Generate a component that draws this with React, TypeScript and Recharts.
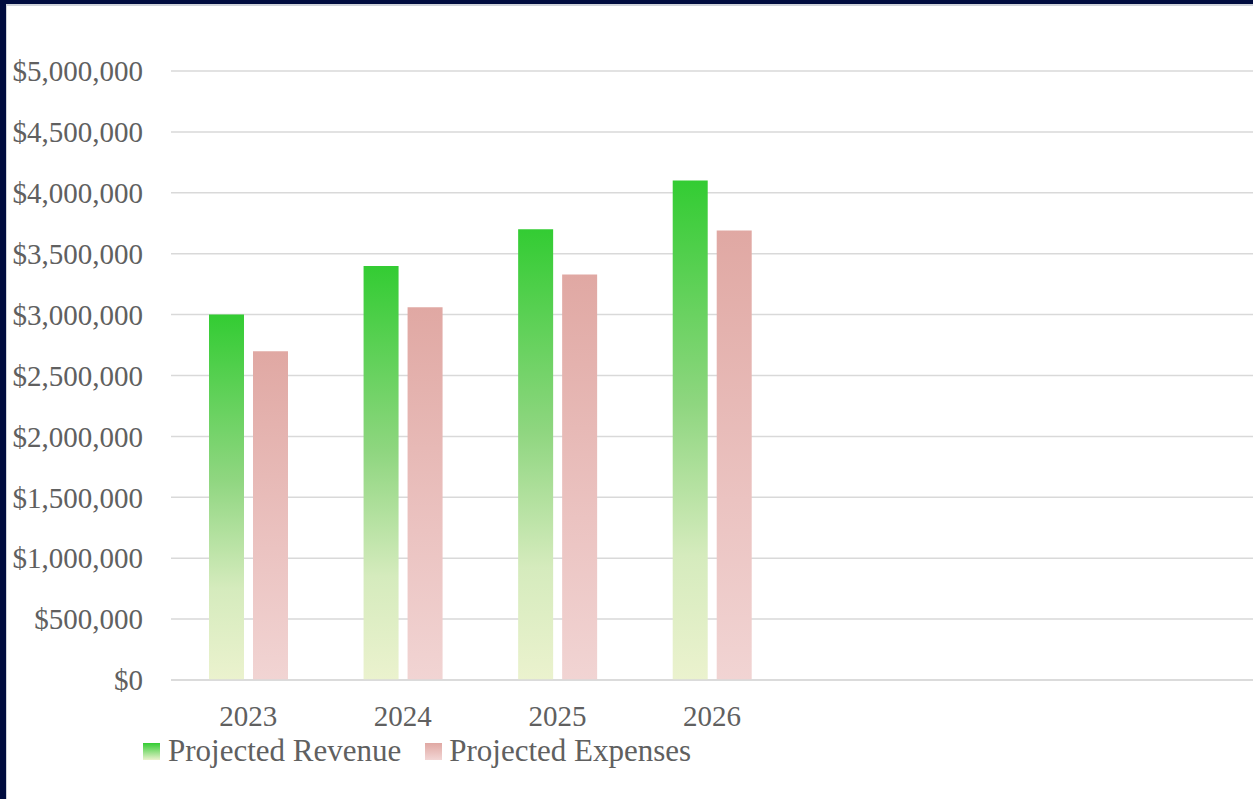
import React from "react";
import { BarChart, Bar, XAxis, YAxis, CartesianGrid } from "recharts";

const categories = ["2023", "2024", "2025", "2026", "", " ", "  "];
const revenue = [3000000, 3400000, 3700000, 4100000, null, null, null];
const expenses = [2700000, 3060000, 3330000, 3690000, null, null, null];
const yTicks = [0, 500000, 1000000, 1500000, 2000000, 2500000, 3000000, 3500000, 4000000, 4500000, 5000000];
const seriesNames = ["Projected Revenue", "Projected Expenses"];

const data = categories.map((c, i) => ({ year: c, revenue: revenue[i], expenses: expenses[i] }));

const FONT = '"Liberation Serif", "DejaVu Serif", serif';
const TEXT = "#606060";

const fmt = (v: number) => "$" + v.toLocaleString("en-US");

const LegendContent = () => (
  <div style={{ display: "flex", alignItems: "center", fontFamily: FONT, fontSize: 31, color: TEXT, whiteSpace: "nowrap", lineHeight: "34px" }}>
    <svg width={17} height={17} style={{ marginRight: 8 }}>
      <defs>
        <linearGradient id="lgRev" x1="0" y1="0" x2="0" y2="1">
          <stop offset="0%" stopColor="#33CC33" />
          <stop offset="100%" stopColor="#EBF2CE" />
        </linearGradient>
      </defs>
      <rect width={17} height={17} fill="url(#lgRev)" />
    </svg>
    <span style={{ marginRight: 24 }}>{seriesNames[0]}</span>
    <svg width={17} height={17} style={{ marginRight: 7 }}>
      <defs>
        <linearGradient id="lgExp" x1="0" y1="0" x2="0" y2="1">
          <stop offset="0%" stopColor="#E0A8A3" />
          <stop offset="100%" stopColor="#F2D6D5" />
        </linearGradient>
      </defs>
      <rect width={17} height={17} fill="url(#lgExp)" />
    </svg>
    <span>{seriesNames[1]}</span>
  </div>
);

export default function App() {
  return (
    <div style={{ position: "fixed", left: 0, top: 0, width: 1253, height: 799, background: "#000C3F", overflow: "hidden" }}>
      <div
        style={{
          position: "absolute",
          left: 6,
          top: 4,
          width: 1253,
          height: 799,
          background: "#ffffff",
          borderLeft: "1px solid #cfd3da",
          borderTop: "2px solid #cfd3da",
        }}
      />
      <div style={{ position: "absolute", left: 0, top: 0 }}>
        <BarChart
          width={1253}
          height={799}
          data={data}
          margin={{ top: 71, right: 0, bottom: 0, left: 0 }}
          barSize={35}
          barGap={9}
        >
          <defs>
            <linearGradient id="gRev" x1="0" y1="0" x2="0" y2="1">
              <stop offset="0%" stopColor="#33CC33" />
              <stop offset="45%" stopColor="#8FD680" />
              <stop offset="75%" stopColor="#D5EBBD" />
              <stop offset="100%" stopColor="#EBF2CE" />
            </linearGradient>
            <linearGradient id="gExp" x1="0" y1="0" x2="0" y2="1">
              <stop offset="0%" stopColor="#E0A8A3" />
              <stop offset="60%" stopColor="#EBC3C1" />
              <stop offset="100%" stopColor="#F1D4D3" />
            </linearGradient>
          </defs>
          <CartesianGrid vertical={false} stroke="#d9d9d9" strokeWidth={1.5} />
          <XAxis
            dataKey="year"
            height={119}
            axisLine={{ stroke: "#d9d9d9", strokeWidth: 1.5 }}
            tickLine={false}
            tickSize={0}
            tickMargin={25}
            interval={0}
            tick={{ fill: TEXT, fontSize: 29, fontFamily: FONT }}
          />
          <YAxis
            width={171}
            domain={[0, 5000000]}
            ticks={yTicks}
            tickFormatter={fmt}
            axisLine={false}
            tickLine={false}
            tickSize={0}
            tickMargin={28}
            interval={0}
            tick={{ fill: TEXT, fontSize: 29, fontFamily: FONT }}
          />
          <Bar dataKey="revenue" name={seriesNames[0]} fill="url(#gRev)" isAnimationActive={false} />
          <Bar dataKey="expenses" name={seriesNames[1]} fill="url(#gExp)" isAnimationActive={false} />
        </BarChart>
      </div>
      <div style={{ position: "absolute", left: 143, top: 734 }}>
        <LegendContent />
      </div>
    </div>
  );
}
